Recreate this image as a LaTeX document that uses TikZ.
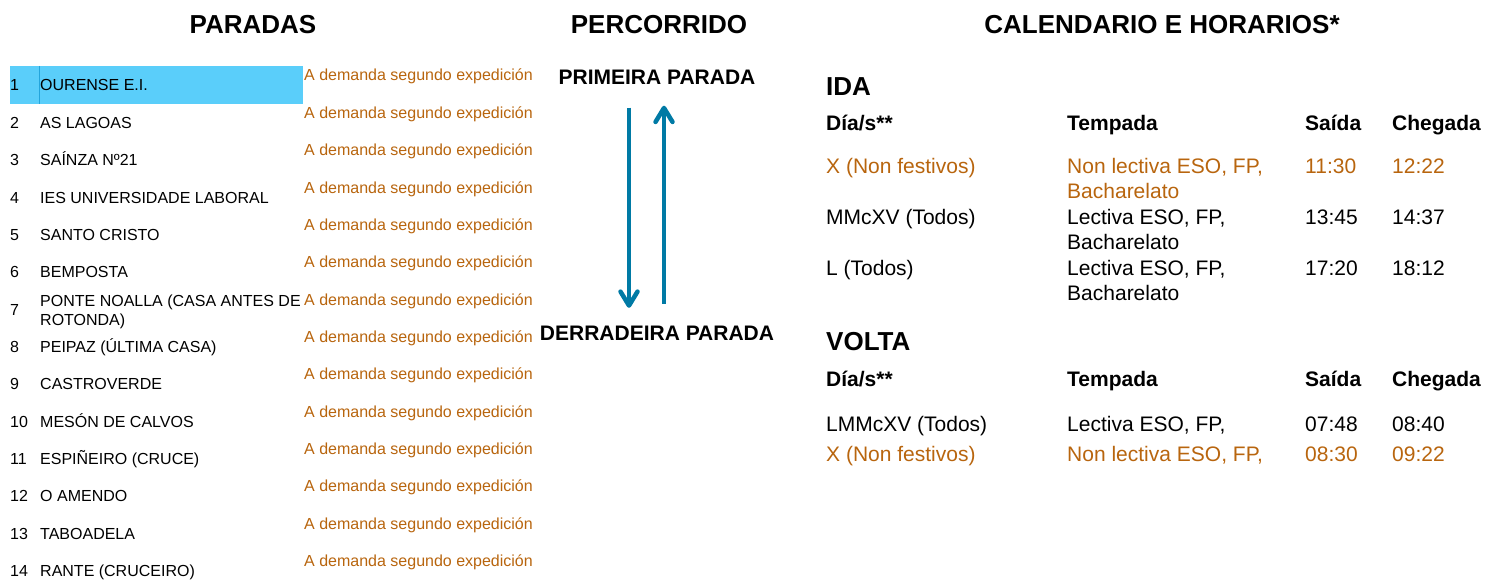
\documentclass[tikz,border=0pt]{standalone}
\usepackage{fontspec}
\setmainfont{Liberation Sans}
\usetikzlibrary{arrows.meta}

\definecolor{demanda}{RGB}{184,101,14}
\definecolor{resalte}{RGB}{90,206,250}
\definecolor{resaltebord}{RGB}{35,165,220}
\definecolor{frecha}{RGB}{0,122,165}

\tikzset{
  titulo/.style={font=\fontsize{26}{30}\selectfont\bfseries, inner sep=0pt, anchor=base},
  parada/.style={font=\fontsize{16}{19}\selectfont, inner sep=0pt, anchor=base west},
  aviso/.style={parada, text=demanda},
  extremo/.style={font=\fontsize{21}{25}\selectfont\bfseries, inner sep=0pt, anchor=base},
  sentido/.style={font=\fontsize{26}{30}\selectfont\bfseries, inner sep=0pt, anchor=base west},
  cabeceira/.style={font=\fontsize{21}{25}\selectfont\bfseries, inner sep=0pt, anchor=base west},
  celda/.style={font=\fontsize{21}{25}\selectfont, inner sep=0pt, anchor=base west, align=left},
  frecha/.style={draw=frecha, line width=4.5pt, -{Straight Barb[round,length=14pt,width=17pt]}}
}

\begin{document}
\begin{tikzpicture}[x=1pt,y=-1pt]
  \useasboundingbox (0,0) rectangle (1485,580);

  \node[titulo] (paradas)    at (253,34)  {PARADAS};
  \node[titulo] (percorrido) at (659,34)  {PERCORRIDO};
  \node[titulo] (calendario) at (1162,34) {CALENDARIO E HORARIOS*};

  % paradas
  \fill[resalte] (10,66) rectangle (303,104);
  \draw[resaltebord] (39,66) -- (39,104);

  \foreach \n/\nome in {1/OURENSE E.I., 2/AS LAGOAS, 3/SAÍNZA Nº21,
                        4/IES UNIVERSIDADE LABORAL, 5/SANTO CRISTO, 6/BEMPOSTA,
                        8/PEIPAZ (ÚLTIMA CASA), 9/CASTROVERDE, 10/MESÓN DE CALVOS,
                        11/ESPIÑEIRO (CRUCE), 12/O AMENDO, 13/TABOADELA,
                        14/RANTE (CRUCEIRO)} {
    \pgfmathsetmacro\yb{91+37.35*(\n-1)}
    \node[parada] (num-\n)  at (10,\yb) {\n};
    \node[parada] (stop-\n) at (40,\yb) {\nome};
  }
  \node[parada] (num-7) at (10,315.1) {7};
  \node[parada, anchor=west, align=left] (stop-7) at (40,312)
       {PONTE NOALLA (CASA ANTES DE\\ROTONDA)};

  \foreach \n in {1,...,14} {
    \pgfmathsetmacro\yb{81+37.35*(\n-1)}
    \node[aviso] (dem-\n) at (304,\yb) {A demanda segundo expedición};
  }

  % percorrido
  \node[extremo] (primeira)   at (657,84.5)  {PRIMEIRA PARADA};
  \node[extremo] (derradeira) at (657,340.5) {DERRADEIRA PARADA};

  \draw[frecha] ([xshift=-28pt,yshift=-23pt]primeira.south) -- ([xshift=-28pt,yshift=18pt]derradeira.north);
  \draw[frecha] ([xshift=7pt,yshift=22pt]derradeira.north)  -- ([xshift=7pt,yshift=-21pt]primeira.south);

  % calendario
  \node[sentido] (ida)   at (826,96)  {IDA};
  \node[sentido] (volta) at (826,350) {VOLTA};

  \foreach \yc/\tab in {130.5/ida, 386.5/volta}
    \foreach \x/\t [count=\c] in {826/{Día/s**}, 1067/Tempada, 1305/Saída, 1392/Chegada}
      \node[cabeceira] (\tab-cab-\c) at (\x,\yc) {\t};

  \foreach \y/\cor/\dias/\tempada/\saida/\chegada [count=\r] in {
      173.5/demanda/X (Non festivos)/{Non lectiva ESO, FP,\\Bacharelato}/11:30/12:22,
      224.5/black/MMcXV (Todos)/{Lectiva ESO, FP,\\Bacharelato}/13:45/14:37,
      275.5/black/L (Todos)/{Lectiva ESO, FP,\\Bacharelato}/17:20/18:12} {
    \node[celda, text=\cor] (ida-\r-1) at (826,\y)     {\dias};
    \node[celda, text=\cor] (ida-\r-2) at (1067,\y+25) {\tempada};
    \node[celda, text=\cor] (ida-\r-3) at (1305,\y)    {\saida};
    \node[celda, text=\cor] (ida-\r-4) at (1392,\y)    {\chegada};
  }

  \foreach \y/\cor/\dias/\tempada/\saida/\chegada [count=\r] in {
      431.5/black/LMMcXV (Todos)/{Lectiva ESO, FP,}/07:48/08:40,
      461.5/demanda/X (Non festivos)/{Non lectiva ESO, FP,}/08:30/09:22} {
    \node[celda, text=\cor] (volta-\r-1) at (826,\y)  {\dias};
    \node[celda, text=\cor] (volta-\r-2) at (1067,\y) {\tempada};
    \node[celda, text=\cor] (volta-\r-3) at (1305,\y) {\saida};
    \node[celda, text=\cor] (volta-\r-4) at (1392,\y) {\chegada};
  }
\end{tikzpicture}
\end{document}
